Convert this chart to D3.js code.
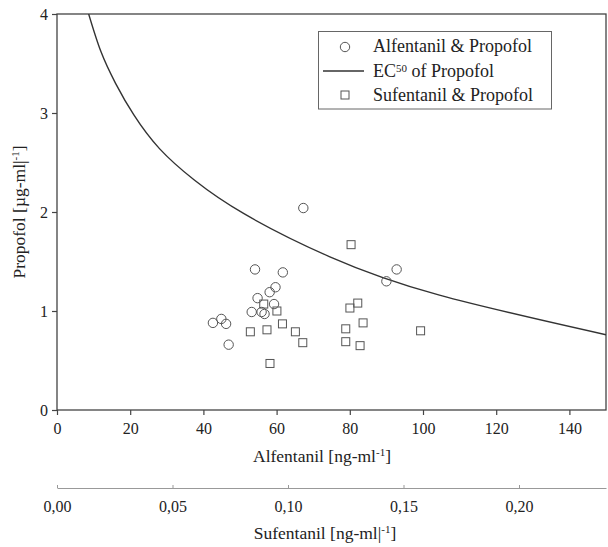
<!DOCTYPE html>
<html lang="en">
<head>
<meta charset="UTF-8">
<title>Propofol EC50 isobologram</title>
<script src="https://d3js.org/d3.v7.min.js"></script>
<style>
  body { margin: 0; background: #fff; }
  svg text { font-family: "Liberation Serif", "DejaVu Serif", serif; fill: #222; }
</style>
</head>
<body>
<svg width="608" height="547"></svg>
<script>
// Alfentanil [ng/ml] vs Propofol [µg/ml]
const alfentanil = [67.3, 54.1, 61.7, 59.7, 58.1, 54.8, 59.3, 53.2, 55.9, 56.7, 42.6, 44.9, 46.2, 46.9, 92.8, 90.0];
const alfPropofol = [2.04, 1.42, 1.39, 1.24, 1.19, 1.13, 1.07, 0.99, 0.99, 0.97, 0.88, 0.92, 0.87, 0.66, 1.42, 1.30];

// Sufentanil [ng/ml] vs Propofol [µg/ml]
const sufentanil = [0.0895, 0.0952, 0.0976, 0.0837, 0.0909, 0.1032, 0.1064, 0.0922, 0.1273, 0.1302, 0.1268, 0.1325, 0.1250, 0.1250, 0.1312, 0.1574];
const sufPropofol = [1.07, 1.00, 0.87, 0.79, 0.81, 0.79, 0.68, 0.47, 1.67, 1.08, 1.03, 0.88, 0.82, 0.69, 0.65, 0.80];

// EC50 curve of propofol (alfentanil, propofol)
const ecX = [8.65, 12.0, 16.0, 21.0, 28.0, 37.6, 51.2, 74.4, 104.5, 150];
const ecY = [4.0, 3.62, 3.30, 2.98, 2.64, 2.32, 1.98, 1.55, 1.16, 0.76];

const xTicks = [0, 20, 40, 60, 80, 100, 120, 140];
const yTicks = [0, 1, 2, 3, 4];
const sufTicks = [0, 0.05, 0.10, 0.15, 0.20];

const svg = d3.select("svg");
const pLeft = 57, pRight = 606, pTop = 14, pBottom = 410;

const x = d3.scaleLinear().domain([0, 150]).range([pLeft, pRight]);
const xs = d3.scaleLinear().domain([0, (pRight - pLeft) / 115.5 * 0.05]).range([pLeft, pRight]);
const y = d3.scaleLinear().domain([0, 4]).range([pBottom, pTop]);

const frame = "#444";

// clip for curve
svg.append("clipPath").attr("id", "plot")
  .append("rect").attr("x", pLeft).attr("y", pTop)
  .attr("width", pRight - pLeft).attr("height", pBottom - pTop);

// y axis
const yAxis = svg.append("g")
  .attr("transform", `translate(${pLeft},0)`)
  .call(d3.axisLeft(y).tickValues(yTicks).tickFormat(d3.format("d")).tickSize(5).tickPadding(4));
// x axis
const xAxis = svg.append("g")
  .attr("transform", `translate(0,${pBottom})`)
  .call(d3.axisBottom(x).tickValues(xTicks).tickFormat(d3.format("d")).tickSize(5).tickPadding(8));
[xAxis, yAxis].forEach(g => {
  g.select(".domain").remove();
  g.selectAll("line").attr("stroke", frame).attr("stroke-width", 1.2);
  g.selectAll("text").attr("font-size", 16).attr("fill", "#222")
    .style("font-family", "'Liberation Serif', serif");
});

// frame
svg.append("rect")
  .attr("x", pLeft).attr("y", pTop)
  .attr("width", pRight - pLeft).attr("height", pBottom - pTop)
  .attr("fill", "none").attr("stroke", frame).attr("stroke-width", 1.3);

// secondary sufentanil axis
const sAxis = svg.append("g")
  .attr("transform", "translate(0,488)")
  .call(d3.axisTop(xs).tickValues(sufTicks).tickFormat(d => d3.format(".2f")(d).replace(".", ",")).tickSize(3).tickSizeOuter(0));
sAxis.select(".domain").attr("stroke", "#999").attr("stroke-width", 1.2);
sAxis.selectAll("line").attr("stroke", "#999");
sAxis.selectAll("text")
  .attr("y", 24).attr("dy", null)
  .attr("font-size", 16).attr("fill", "#222")
  .style("font-family", "'Liberation Serif', serif");

// EC50 curve
const line = d3.line().x(d => x(d[0])).y(d => y(d[1])).curve(d3.curveNatural);
svg.append("path")
  .datum(d3.zip(ecX, ecY))
  .attr("clip-path", "url(#plot)")
  .attr("d", line)
  .attr("fill", "none").attr("stroke", "#333").attr("stroke-width", 1.4);

const mark = "#555";
// alfentanil circles
svg.append("g").selectAll("circle")
  .data(d3.zip(alfentanil, alfPropofol))
  .join("circle")
  .attr("cx", d => x(d[0])).attr("cy", d => y(d[1])).attr("r", 4.7)
  .attr("fill", "none").attr("stroke", mark).attr("stroke-width", 1);

// sufentanil squares
const sq = 8;
svg.append("g").selectAll("rect")
  .data(d3.zip(sufentanil, sufPropofol))
  .join("rect")
  .attr("x", d => xs(d[0]) - sq / 2).attr("y", d => y(d[1]) - sq / 2)
  .attr("width", sq).attr("height", sq)
  .attr("fill", "none").attr("stroke", mark).attr("stroke-width", 1);

// legend
const lg = svg.append("g");
lg.append("rect").attr("x", 318.5).attr("y", 31.5).attr("width", 233).attr("height", 77.5)
  .attr("fill", "#fff").attr("stroke", "#666").attr("stroke-width", 1);
lg.append("circle").attr("cx", 345).attr("cy", 47).attr("r", 4.7)
  .attr("fill", "none").attr("stroke", mark);
lg.append("line").attr("x1", 323).attr("x2", 364).attr("y1", 71).attr("y2", 71)
  .attr("stroke", "#333").attr("stroke-width", 1.4);
lg.append("rect").attr("x", 341).attr("y", 91).attr("width", sq).attr("height", sq)
  .attr("fill", "none").attr("stroke", mark);
const lt = (yy) => lg.append("text").attr("x", 373).attr("y", yy).attr("font-size", 18);
lt(52).text("Alfentanil & Propofol");
const ec = lt(77);
ec.append("tspan").text("EC");
ec.append("tspan").attr("font-size", 11).attr("dy", -5).text("50");
ec.append("tspan").attr("dy", 5).text(" of Propofol");
lt(101).text("Sufentanil & Propofol");

// axis titles
const t1 = svg.append("text").attr("x", 322).attr("y", 462).attr("text-anchor", "middle").attr("font-size", 17.5);
t1.append("tspan").text("Alfentanil [ng-ml");
t1.append("tspan").attr("font-size", 11).attr("dy", -6).text("-1");
t1.append("tspan").attr("dy", 6).text("]");

const t2 = svg.append("text").attr("x", 325).attr("y", 539).attr("text-anchor", "middle").attr("font-size", 17.5);
t2.append("tspan").text("Sufentanil [ng-ml|");
t2.append("tspan").attr("font-size", 11).attr("dy", -6).text("-1");
t2.append("tspan").attr("dy", 6).text("]");

const t3 = svg.append("text").attr("transform", `translate(25,${(pTop + pBottom) / 2}) rotate(-90)`)
  .attr("text-anchor", "middle").attr("font-size", 17.5);
t3.append("tspan").text("Propofol [µg-ml|");
t3.append("tspan").attr("font-size", 11).attr("dy", -6).text("-1");
t3.append("tspan").attr("dy", 6).text("]");
</script>
</body>
</html>
